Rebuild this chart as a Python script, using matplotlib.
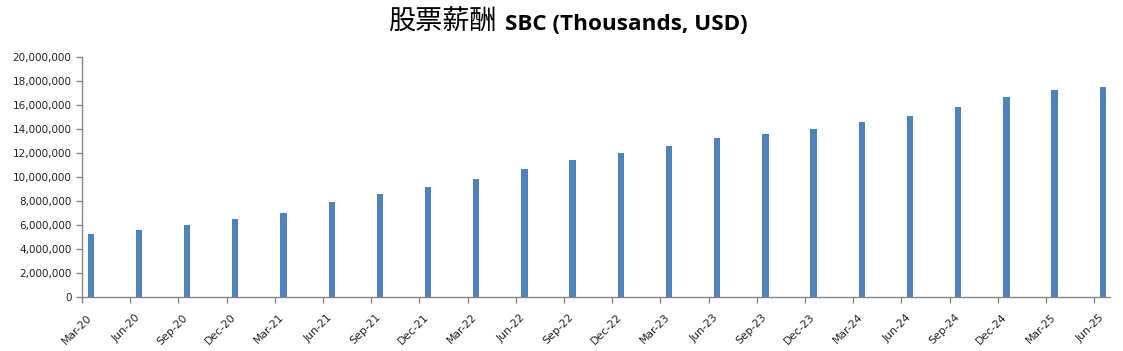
import matplotlib

matplotlib.use("Agg")
import matplotlib.pyplot as plt
from matplotlib.ticker import FuncFormatter, MultipleLocator

quarters = [
    "Mar-20", "Jun-20", "Sep-20", "Dec-20",
    "Mar-21", "Jun-21", "Sep-21", "Dec-21",
    "Mar-22", "Jun-22", "Sep-22", "Dec-22",
    "Mar-23", "Jun-23", "Sep-23", "Dec-23",
    "Mar-24", "Jun-24", "Sep-24", "Dec-24",
    "Mar-25", "Jun-25",
]
# stock-based compensation, thousands USD
sbc = [
    5_220_000, 5_610_000, 6_030_000, 6_530_000,
    7_030_000, 7_940_000, 8_600_000, 9_170_000,
    9_830_000, 10_670_000, 11_420_000, 12_030_000,
    12_580_000, 13_250_000, 13_580_000, 14_000_000,
    14_610_000, 15_110_000, 15_830_000, 16_670_000,
    17_280_000, 17_500_000,
]

bar_color = "#4F81BD"
axis_color = "#868686"

fig = plt.figure(figsize=(11.23, 3.51), dpi=100)
ax = fig.add_axes([82 / 1123, 54 / 351, 1028 / 1123, 240 / 351])

# quarter-end dates sit a bit to the right of the period tick (date axis)
positions = [i for i in range(len(quarters))]
bar_x = [p + 0.18 for p in positions]
ax.bar(bar_x, sbc, width=0.13, color=bar_color, zorder=2)

ax.set_xlim(0, len(quarters) - 1 + 0.33)
ax.set_ylim(0, 20_000_000)

ax.yaxis.set_major_locator(MultipleLocator(2_000_000))
ax.yaxis.set_major_formatter(FuncFormatter(lambda v, _: f"{int(v):,}"))

label_x = [p + 0.09 for p in positions]
ax.set_xticks(positions, labels=[""] * len(positions))
ax.set_xticks(label_x, labels=quarters, minor=True)
ax.tick_params(axis="x", which="minor", length=0, pad=11)
for lbl in ax.get_xticklabels(minor=True):
    lbl.set_rotation(45)
    lbl.set_ha("right")
    lbl.set_va("top")
    lbl.set_rotation_mode("anchor")

ax.tick_params(axis="both", which="major", direction="out", length=4,
               width=1, color=axis_color, labelsize=7.5, labelcolor="#222222")
ax.tick_params(axis="x", which="minor", labelsize=7.8, labelcolor="#222222")

for side in ("top", "right"):
    ax.spines[side].set_visible(False)
for side in ("left", "bottom"):
    ax.spines[side].set_color(axis_color)
    ax.spines[side].set_linewidth(1)

title_y = 1 - 30 / 351
fig.text(388 / 1123, title_y, "股票薪酬", fontsize=19.5,
         family=["Noto Sans CJK SC", "DejaVu Sans"], ha="left", va="baseline")
fig.text(505 / 1123, title_y, "SBC (Thousands, USD)", fontsize=16.2,
         family="Open Sans", fontweight="bold", ha="left", va="baseline")

fig.savefig("out.png", dpi=100)
